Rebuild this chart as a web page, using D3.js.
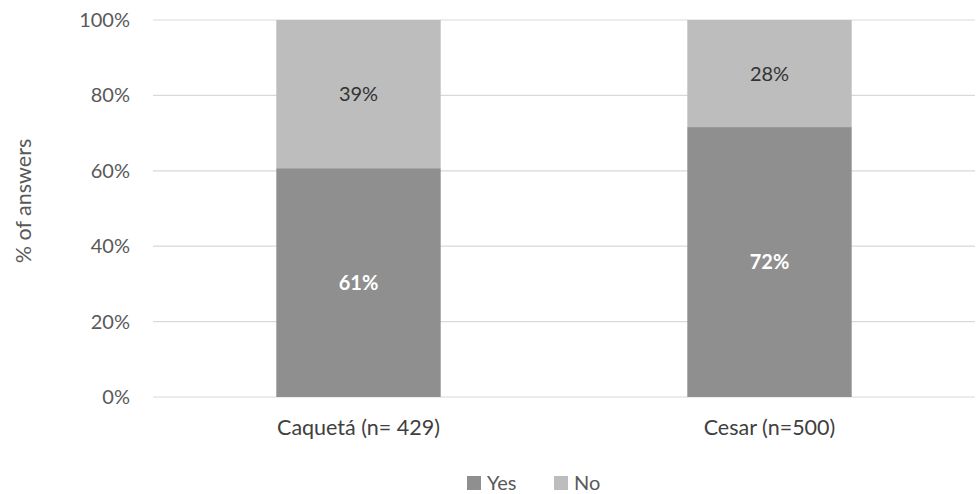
<!DOCTYPE html>
<html><head><meta charset="utf-8">
<script src="https://cdn.jsdelivr.net/npm/d3@7"></script>
<style>body{margin:0;background:#fff}svg{display:block}text{font-family:Lato,"Open Sans",sans-serif}</style>
</head><body><svg id="c" width="977" height="494"></svg>
<script>
const categories = ["Caquetá (n= 429)", "Cesar (n=500)"];
const seriesNames = ["Yes", "No"];
const yesValues = [60.7, 71.6];
const noValues = [39.3, 28.4];
const yTicks = [0, 20, 40, 60, 80, 100];
const colors = {Yes: "#8f8f8f", No: "#bdbdbd"};

const svg = d3.select("#c");
const m = {l: 153, r: 2, t: 20, b: 97};
const W = 977, H = 494;
const x = d3.scaleBand().domain(categories).range([m.l, W - m.r]).padding(0);
const y = d3.scaleLinear().domain([0, 100]).range([H - m.b, m.t]);

// grid
svg.append("g").selectAll("line").data(yTicks).join("line")
  .attr("x1", m.l).attr("x2", W - m.r)
  .attr("y1", d => y(d)).attr("y2", d => y(d))
  .attr("stroke", "#d9d9d9").attr("stroke-width", 1.2);

// y tick labels
svg.append("g").selectAll("text").data(yTicks).join("text")
  .attr("x", 130).attr("y", d => y(d)).attr("dy", "0.35em")
  .attr("text-anchor", "end").attr("font-size", 20).attr("fill", "#595959")
  .text(d => d + "%");

// y title
svg.append("text").attr("transform", `translate(31,201) rotate(-90)`)
  .attr("text-anchor", "middle").attr("font-size", 21.5).attr("fill", "#595959")
  .text("% of answers");

const barW = x.bandwidth() * 0.4;
const data = categories.map((c, i) => ({c, Yes: yesValues[i], No: noValues[i]}));
const stack = d3.stack().keys(seriesNames)(data);

stack.forEach(s => {
  const g = svg.append("g");
  g.selectAll("rect").data(s).join("rect")
    .attr("x", d => x(d.data.c) + (x.bandwidth() - barW) / 2)
    .attr("width", barW)
    .attr("y", d => y(d[1]))
    .attr("height", d => y(d[0]) - y(d[1]))
    .attr("fill", colors[s.key]);
  g.selectAll("text").data(s).join("text")
    .attr("x", d => x(d.data.c) + x.bandwidth() / 2)
    .attr("y", d => (y(d[0]) + y(d[1])) / 2).attr("dy", "0.35em")
    .attr("text-anchor", "middle").attr("font-size", 20)
    .attr("font-weight", s.key === "Yes" ? "bold" : "normal")
    .attr("fill", s.key === "Yes" ? "#ffffff" : "#333333")
    .text(d => Math.round(d[1] - d[0]) + "%");
});

// x labels
svg.append("g").selectAll("text").data(categories).join("text")
  .attr("x", d => x(d) + x.bandwidth() / 2).attr("y", 427).attr("dy", "0.35em")
  .attr("text-anchor", "middle").attr("font-size", 21.5).attr("fill", "#404040")
  .text(d => d);

// legend
const legX = [467, 554];
const lg = svg.append("g");
seriesNames.forEach((n, i) => {
  lg.append("rect").attr("x", legX[i]).attr("y", 476).attr("width", 14).attr("height", 14).attr("fill", colors[n]);
  lg.append("text").attr("x", legX[i] + 20).attr("y", 483).attr("dy", "0.35em")
    .attr("font-size", 20).attr("fill", "#595959").text(n);
});
</script></body></html>
